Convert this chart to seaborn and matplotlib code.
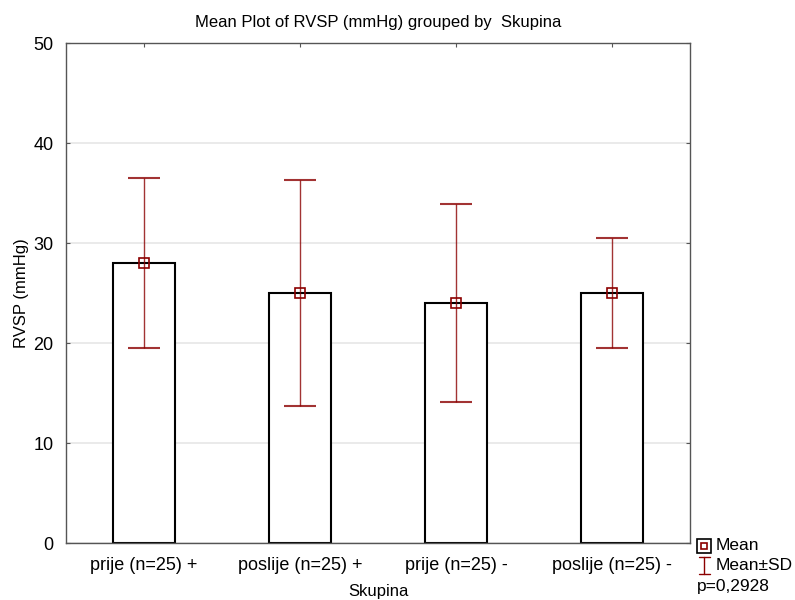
import numpy as np
import pandas as pd
import matplotlib
matplotlib.use("Agg")
import matplotlib.pyplot as plt
import seaborn as sns
from matplotlib.lines import Line2D

groups = ["prije (n=25) +", "poslije (n=25) +", "prije (n=25) -", "poslije (n=25) -"]
means = [28.0, 25.0, 24.0, 25.0]
sds = [8.5, 11.3, 9.9, 5.5]
p_text = "p=0,2928"

sns.set_style("white")
plt.rcParams['font.family'] = ['Liberation Sans', 'DejaVu Sans']
plt.rcParams['font.size'] = 12
plt.rcParams['text.color'] = 'black'
plt.rcParams['axes.labelcolor'] = 'black'

df = pd.DataFrame({"Skupina": groups, "RVSP": means, "SD": sds})
red = "#8b0000"
W, H = 795, 600

fig = plt.figure(figsize=(7.95, 6), dpi=100)
ax = fig.add_axes([0.083, 0.095, 0.785, 0.833])

ax.yaxis.grid(True, color="#e6e6e6", linewidth=1.2)
ax.set_axisbelow(True)

sns.barplot(data=df, x="Skupina", y="RVSP", color="white", edgecolor="black",
            linewidth=1.5, width=0.4, errorbar=None, ax=ax, zorder=2)

x = np.arange(len(groups))
ax.errorbar(x, df["RVSP"], yerr=df["SD"], fmt="none", ecolor=red, elinewidth=1,
            capsize=11.5, capthick=1.5, zorder=3, alpha=0.8)
ax.plot(x, df["RVSP"], "s", mfc="none", mec=red, ms=7, mew=1.2, zorder=4)

ax.set_ylim(0, 50)
ax.set_yticks([0, 10, 20, 30, 40, 50])
ax.set_xlim(-0.5, 3.5)
ax.set_xlabel("Skupina", fontsize=12, labelpad=7)
ax.set_ylabel("RVSP (mmHg)", fontsize=12, labelpad=3)
ax.set_title("Mean Plot of RVSP (mmHg) grouped by  Skupina", fontsize=12, pad=12)
ax.tick_params(axis="both", which="both", direction="in", length=3, colors="#555555",
               labelcolor="black", labelsize=13, top=True, right=True, left=True, bottom=True)
ax.tick_params(axis="x", pad=10)
ax.tick_params(axis="y", pad=9)
for s in ax.spines.values():
    s.set_color("#555555")
    s.set_linewidth(1)

# legend drawn by hand, below right of the plot
def fx(px):
    return px / W

def fy(py):
    return 1 - py / H

tf = fig.transFigure
fig.add_artist(Line2D([fx(703.5)], [fy(546)], transform=tf, marker="s", ls="none",
                      mfc="none", mec="black", ms=9.5, mew=1.2))
fig.add_artist(Line2D([fx(703.5)], [fy(546)], transform=tf, marker="s", ls="none",
                      mfc="none", mec=red, ms=5, mew=1.2))
fig.add_artist(Line2D([fx(704)] * 2, [fy(557), fy(574)], transform=tf, color=red, lw=1))
for yy in (557, 574):
    fig.add_artist(Line2D([fx(699), fx(710)], [fy(yy)] * 2, transform=tf, color=red, lw=1))
fig.text(fx(716), fy(546), "Mean", fontsize=12.5, ha="left", va="center")
fig.text(fx(716), fy(565), "Mean\u00b1SD", fontsize=12.5, ha="left", va="center")
fig.text(fx(697), fy(586), p_text, fontsize=12.5, ha="left", va="center")

fig.savefig("out.png", dpi=100)
